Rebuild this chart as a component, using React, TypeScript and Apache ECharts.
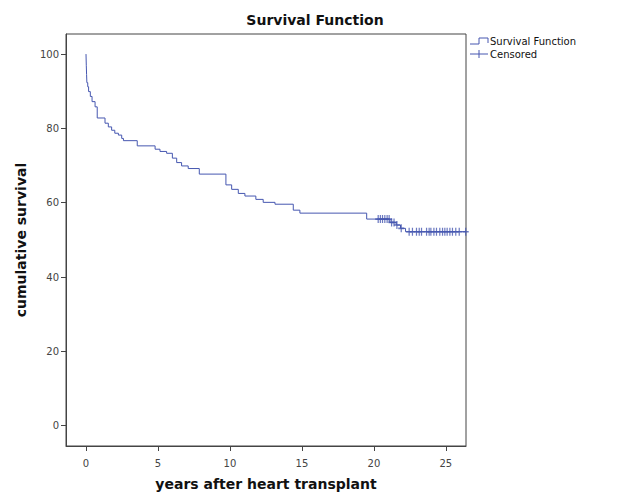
import React, { useEffect, useRef } from "react";
import * as echarts from "echarts";

// Kaplan-Meier step points: [years, cumulative survival %] (drop occurs at t)
const survivalSteps: [number, number][] = [
  [0, 100], [0.02, 97], [0.04, 94.5], [0.06, 92.3], [0.12, 91.2], [0.18, 89.9],
  [0.3, 88.6], [0.42, 87.2], [0.63, 85.8], [0.78, 82.8], [1.32, 81.4], [1.55, 80.4],
  [1.78, 79.5], [2.0, 78.7], [2.25, 78.2], [2.48, 77.3], [2.6, 76.7], [3.56, 75.3],
  [4.8, 74.4], [5.14, 73.8], [5.6, 73.3], [6.0, 72.0], [6.3, 70.8], [6.64, 69.9],
  [7.1, 69.2], [7.87, 67.7], [9.72, 64.8], [10.12, 63.6], [10.58, 62.5], [11.04, 61.8],
  [11.8, 60.9], [12.31, 60.1], [13.13, 59.6], [14.4, 58.0], [14.86, 57.2], [19.5, 55.6],
  [21.12, 54.7], [21.55, 54.0], [21.85, 53.1], [22.2, 52.2], [26.4, 52.2],
];

// Censored observations: [years, survival level]
const censored: [number, number][] = [
  [20.3, 55.6], [20.45, 55.6], [20.6, 55.6], [20.76, 55.6], [20.92, 55.6], [21.06, 55.6],
  [21.23, 54.7], [21.4, 54.7], [21.6, 54.0], [21.9, 53.1],
  [22.45, 52.2], [22.68, 52.2], [22.96, 52.2], [23.15, 52.2], [23.31, 52.2], [23.66, 52.2],
  [23.84, 52.2], [23.96, 52.2], [24.17, 52.2], [24.35, 52.2], [24.58, 52.2], [24.77, 52.2],
  [24.93, 52.2], [25.09, 52.2], [25.28, 52.2], [25.46, 52.2], [25.69, 52.2], [25.93, 52.2],
  [26.38, 52.2],
];

const xTicks = [0, 5, 10, 15, 20, 25];
const yTicks = [0, 20, 40, 60, 80, 100];

const BLUE = "#4657b0";
const FONT = "DejaVu Sans";

export default function App() {
  const ref = useRef<HTMLDivElement>(null);
  useEffect(() => {
    if (!ref.current) return;
    const chart = echarts.init(ref.current, undefined, { renderer: "svg" });
    chart.setOption({
      animation: false,
      backgroundColor: "#ffffff",
      textStyle: { fontFamily: FONT },
      title: {
        text: "Survival Function",
        left: 310,
        top: 8,
        textAlign: "center",
        textStyle: { fontFamily: FONT, fontSize: 14, fontWeight: "bold", color: "#111" },
      },
      grid: {
        left: 66,
        top: 34,
        right: 156,
        bottom: 57,
        show: true,
        borderColor: "#444",
        borderWidth: 1,
        backgroundColor: "transparent",
      },
      xAxis: {
        type: "value",
        min: -1.39,
        max: 26.4,
        name: "years after heart transplant",
        nameLocation: "middle",
        nameGap: 31,
        nameTextStyle: { fontFamily: FONT, fontSize: 14, fontWeight: "bold", color: "#111" },
        axisLine: { show: true, onZero: false, lineStyle: { color: "#444", width: 1 } },
        axisTick: { show: true, length: 5, customValues: xTicks, lineStyle: { color: "#444" } },
        axisLabel: { customValues: xTicks, fontSize: 10, color: "#444", margin: 12, fontFamily: FONT },
        splitLine: { show: false },
      },
      yAxis: {
        type: "value",
        min: -5.46,
        max: 105.4,
        name: "cumulative survival",
        nameLocation: "middle",
        nameGap: 38,
        nameRotate: 90,
        nameTextStyle: { fontFamily: FONT, fontSize: 14, fontWeight: "bold", color: "#111" },
        axisLine: { show: true, onZero: false, lineStyle: { color: "#444", width: 1 } },
        axisTick: { show: true, length: 5, customValues: yTicks, lineStyle: { color: "#444" } },
        axisLabel: { customValues: yTicks, fontSize: 10, color: "#444", margin: 7, fontFamily: FONT },
        splitLine: { show: false },
      },
      series: [
        {
          name: "Survival Function",
          type: "line",
          step: "end",
          data: survivalSteps,
          showSymbol: false,
          symbol: "none",
          lineStyle: { color: BLUE, width: 1 },
          z: 2,
        },
        {
          name: "Censored",
          type: "scatter",
          data: censored,
          symbol: "path://M5,0L5,10M1.5,5L8.5,5",
          symbolSize: [6, 8],
          itemStyle: { color: "none", borderColor: BLUE, borderWidth: 1.4 },
          z: 3,
        },
      ],
      graphic: [
        {
          type: "polyline",
          shape: { points: [[470, 44], [479, 44], [479, 38], [488, 38], [488, 43]] },
          style: { stroke: BLUE, lineWidth: 1, fill: "none" },
        },
        {
          type: "text",
          x: 490,
          y: 41,
          style: { text: "Survival Function", fontFamily: FONT, fontSize: 10, fill: "#111", textVerticalAlign: "middle" },
        },
        {
          type: "line",
          shape: { x1: 470, y1: 54, x2: 488, y2: 54 },
          style: { stroke: BLUE, lineWidth: 1 },
        },
        {
          type: "line",
          shape: { x1: 479, y1: 50, x2: 479, y2: 58 },
          style: { stroke: BLUE, lineWidth: 1 },
        },
        {
          type: "text",
          x: 490,
          y: 54,
          style: { text: "Censored", fontFamily: FONT, fontSize: 10, fill: "#111", textVerticalAlign: "middle" },
        },
      ],
    });
    return () => chart.dispose();
  }, []);
  return (
    <div
      ref={ref}
      style={{ position: "absolute", left: 0, top: 0, width: 622, height: 503 }}
    />
  );
}
